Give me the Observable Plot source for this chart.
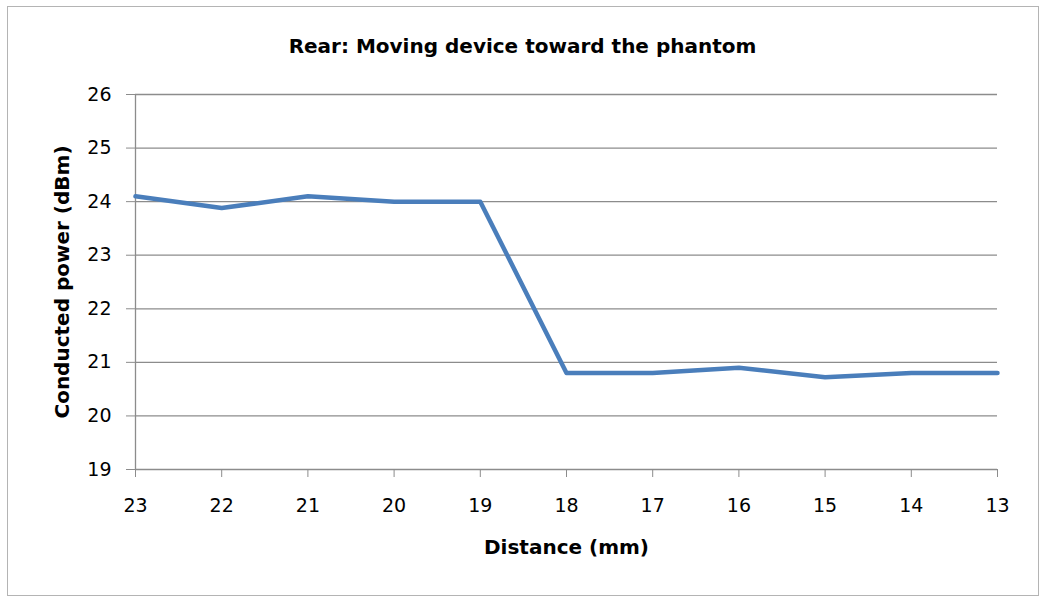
<!DOCTYPE html>
<html>
<head>
<meta charset="utf-8">
<script src="https://cdn.jsdelivr.net/npm/d3@7"></script>
<script src="https://cdn.jsdelivr.net/npm/@observablehq/plot@0.6"></script>
<style>
  html, body { margin: 0; padding: 0; background: #fff; }
  #wrap { position: relative; width: 1041px; height: 596px; overflow: hidden; font-family: "DejaVu Sans", sans-serif; }
  #frame { position: absolute; left: 7px; top: 6px; width: 1030px; height: 588px; border: 1px solid #b4b4b4; pointer-events: none; }
  #title { height: 26px; padding-top: 33px; padding-bottom: 3px; text-align: center; font-weight: bold; font-size: 20px; line-height: 26px; color: #000; padding-left: 4px; }
  #chart svg { display: block; overflow: visible; }
</style>
</head>
<body>
<div id="wrap">
  <div id="frame"></div>
  <div id="title">Rear: Moving device toward the phantom</div>
  <div id="chart"></div>
</div>
<script>
const distances = [23, 22, 21, 20, 19, 18, 17, 16, 15, 14, 13];
const power = [24.1, 23.88, 24.1, 24.0, 24.0, 20.8, 20.8, 20.9, 20.72, 20.8, 20.8];
const yTicks = [19, 20, 21, 22, 23, 24, 25, 26];
const xLabel = "Distance (mm)";
const yLabel = "Conducted power (dBm)";

const data = distances.map((d, i) => ({distance: d, power: power[i]}));
const grid = "#8c8c8c";

const plot = Plot.plot({
  width: 1041,
  height: 534,
  marginTop: 32,
  marginBottom: 127,
  marginLeft: 135,
  marginRight: 44,
  style: {fontFamily: "'DejaVu Sans', sans-serif", background: "transparent", color: "#000"},
  x: {domain: [23, 13], ticks: distances},
  y: {domain: [19, 26], ticks: yTicks},
  marks: [
    Plot.ruleY(yTicks.filter(d => d > 19), {stroke: grid, strokeWidth: 1.3}),
    Plot.ruleY([19], {stroke: grid, strokeWidth: 1.3}),
    Plot.ruleX([23], {stroke: grid, strokeWidth: 1.3}),
    Plot.axisY({ticks: yTicks, tickSize: 9, tickPadding: 15, stroke: grid, fill: "#000", fontSize: 19, label: null, tickFormat: d => String(d)}),
    Plot.axisX({ticks: distances, tickSize: 8, tickPadding: 21, stroke: grid, fill: "#000", fontSize: 19, label: null, tickFormat: d => String(d)}),
    Plot.line(data, {x: "distance", y: "power", stroke: "#4a7ebb", strokeWidth: 4.5, curve: "linear", strokeLinejoin: "round"}),
    Plot.text([yLabel], {frameAnchor: "left", textAnchor: "middle", rotate: -90, dx: -73, fontSize: 20, fontWeight: "bold", fill: "#000"}),
    Plot.text([xLabel], {frameAnchor: "bottom", dy: 84, fontSize: 20, fontWeight: "bold", fill: "#000"})
  ]
});
document.getElementById("chart").appendChild(plot);
</script>
</body>
</html>
